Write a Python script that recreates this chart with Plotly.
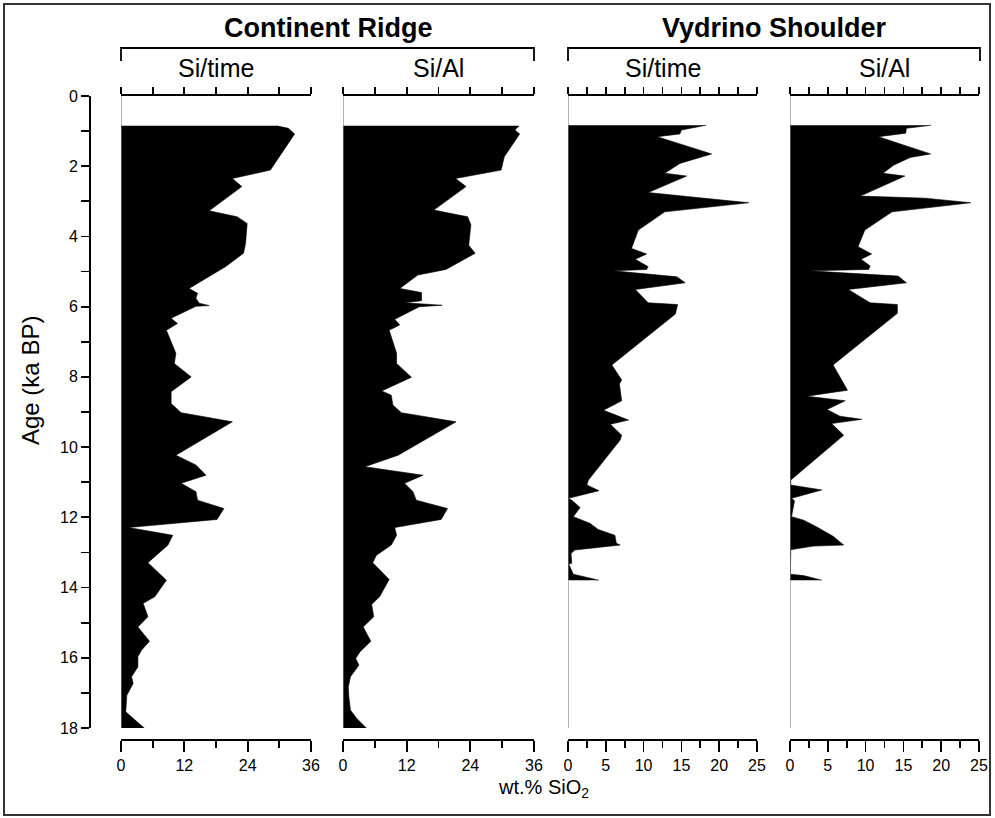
import plotly.graph_objects as go

W, H = 995, 818

# ---------------- data (age ka BP, wt.% SiO2) ----------------
cr_time_age = [0.85, 0.92, 1.08, 2.11, 2.35, 2.58, 3.27, 3.44, 3.63, 4.20, 4.48, 4.86, 5.48, 5.62,
               5.76, 5.90, 5.97, 5.99, 6.33, 6.48, 6.67, 7.33, 7.62, 8.00, 8.42, 8.76, 9.02, 9.28,
               10.23, 10.51, 10.80, 11.03, 11.27, 11.51, 11.75, 12.06, 12.29, 12.51, 12.79, 13.29,
               13.79, 14.26, 14.45, 14.83, 15.12, 15.53, 15.78, 15.97, 16.26, 16.54, 16.73, 17.07,
               17.54, 17.73, 18.18]
cr_time_val = [29.5, 31.7, 32.9, 28.3, 21.1, 22.9, 16.7, 22.0, 23.9, 23.6, 23.2, 19.8, 12.9, 14.5,
               14.2, 14.8, 16.7, 14.2, 9.5, 10.7, 8.6, 10.4, 10.1, 13.3, 9.5, 9.5, 11.4, 21.1,
               10.4, 14.2, 16.1, 11.4, 14.2, 14.5, 19.5, 18.2, 1.4, 9.8, 8.9, 5.1,
               8.6, 6.4, 4.2, 5.1, 3.2, 5.4, 3.9, 3.2, 3.2, 2.0, 2.3, 1.1,
               0.9, 2.3, 5.75]

cr_al_age = [0.85, 0.97, 1.08, 1.73, 2.11, 2.35, 2.58, 3.25, 3.44, 3.67, 4.25, 4.48, 4.94, 5.10,
             5.48, 5.60, 5.83, 5.89, 5.96, 6.00, 6.36, 6.52, 6.67, 7.33, 7.62, 8.01, 8.40, 8.52,
             8.80, 9.02, 9.28, 10.23, 10.56, 10.80, 11.03, 11.27, 11.51, 11.75, 12.06, 12.29,
             12.51, 12.79, 13.08, 13.29, 13.77, 14.26, 14.48, 14.83, 15.12, 15.53, 15.83, 16.02,
             16.21, 16.54, 16.83, 17.11, 17.49, 17.73, 18.18]
cr_al_val = [33.2, 32.4, 33.3, 30.4, 29.8, 21.2, 23.2, 17.1, 23.5, 24.1, 23.7, 24.9, 19.4, 14.1,
             10.7, 14.8, 14.8, 11.6, 18.7, 14.4, 9.75, 10.7, 8.7, 10.1, 10.1, 12.9, 7.3, 9.1,
             9.4, 11.0, 21.3, 10.4, 4.1, 15.1, 11.6, 13.2, 13.8, 19.7, 18.5, 9.75,
             10.1, 9.1, 6.3, 5.6, 8.7, 6.9, 5.4, 5.8, 3.8, 5.25, 3.2, 2.4,
             3.0, 1.4, 1.0, 1.1, 1.4, 2.6, 5.6]

vs_time_age = [0.83, 0.97, 1.08, 1.16, 1.65, 1.92, 2.20, 2.28, 2.75, 3.04, 3.30, 3.82, 4.34, 4.50,
               4.65, 4.86, 4.94, 4.98, 5.15, 5.32, 5.51, 5.89, 5.94, 6.21, 7.66, 8.09, 8.20, 8.68,
               8.95, 9.23, 9.35, 9.66, 9.80, 10.94, 11.08, 11.24, 11.46, 11.51, 11.72, 11.98,
               12.17, 12.35, 12.51, 12.74, 12.79, 12.93, 13.03, 13.31, 13.33, 13.62, 13.79]
vs_time_val = [18.3, 15.0, 14.8, 11.8, 19.0, 14.8, 12.8, 15.7, 10.6, 23.9, 12.8, 9.3, 8.4, 10.4,
               8.9, 10.6, 10.4, 6.0, 14.4, 15.5, 8.9, 10.6, 14.5, 14.2, 5.8, 7.1, 6.8, 7.1,
               4.7, 8.0, 5.6, 7.1, 6.9, 2.7, 2.5, 4.1, 0.05, 0.5, 1.6, 0.7,
               2.9, 4.0, 6.2, 6.4, 6.9, 0.9, 0.4, 0.5, 0.1, 0.7, 4.1]

vs_al_age = [0.83, 0.92, 1.06, 1.16, 1.65, 1.75, 1.97, 2.20, 2.28, 2.85, 2.91, 3.04, 3.30, 3.82,
             4.29, 4.50, 4.65, 4.84, 4.94, 4.98, 5.13, 5.32, 5.51, 5.89, 5.94, 6.19, 7.66, 8.38,
             8.55, 8.68, 8.93, 9.12, 9.21, 9.33, 9.66, 10.94, 11.08, 11.22, 11.46, 11.53, 11.98,
             12.08, 12.27, 12.54, 12.79, 12.82, 12.92, 13.62, 13.66, 13.79]
vs_al_val = [18.7, 15.4, 15.3, 11.7, 18.6, 15.9, 13.7, 12.3, 15.2, 9.3, 17.9, 23.9, 13.5, 9.9,
             9.0, 10.8, 9.4, 10.6, 10.4, 2.6, 14.3, 15.4, 7.7, 10.6, 14.2, 14.2, 5.7, 7.6,
             2.2, 7.3, 4.9, 6.6, 9.5, 5.5, 7.1, 0.1, 0.1, 4.2, 0.2, 0.6, 0.2,
             1.8, 3.5, 5.7, 7.1, 3.1, 0.1, 0.05, 1.8, 4.2]

panel_titles = ["Si/time", "Si/Al", "Si/time", "Si/Al"]
site_titles = ["Continent Ridge", "Vydrino Shoulder"]
y_ticks = list(range(0, 19, 2))

# ---------------- layout geometry (pixels) ----------------
def px(x):
    return x / W

def py(y):
    return 1 - y / H

panels = [
    dict(x0=121, x1=311, rng=[0, 36], dt=12, mdt=6, top=6, age=cr_time_age, val=cr_time_val),
    dict(x0=343, x1=534, rng=[0, 36], dt=12, mdt=6, top=6, age=cr_al_age, val=cr_al_val),
    dict(x0=568, x1=757, rng=[0, 25], dt=5, mdt=2.5, top=2.5, age=vs_time_age, val=vs_time_val),
    dict(x0=790, x1=979, rng=[0, 25], dt=5, mdt=2.5, top=2.5, age=vs_al_age, val=vs_al_val),
]

Y_TOP, Y_BOT = 96, 728      # age 0 and age 18
X_AX_BOT = 739
X_AX_TOP = 94
LW = 1.8

FONT = "Liberation Sans, Arial, sans-serif"

fig = go.Figure()
layout = dict(
    template="none",
    width=W, height=H, margin=dict(l=0, r=0, t=0, b=0, autoexpand=False),
    paper_bgcolor="white", plot_bgcolor="rgba(0,0,0,0)",
    showlegend=False, font=dict(family=FONT, color="black", size=16),
)

layout["yaxis"] = dict(
    domain=[py(Y_BOT), py(Y_TOP)], range=[18, 0], anchor="free", position=px(89),
    automargin=False,
    showline=True, linecolor="black", linewidth=LW, ticks="outside", ticklen=8,
    tickwidth=LW, tickcolor="black", tickvals=y_ticks, showgrid=False, zeroline=False,
    minor=dict(dtick=1, ticklen=8, tickwidth=LW, tickcolor="black", ticks="outside", showgrid=False),
    tickfont=dict(size=16, family=FONT),
)

shapes = []
annotations = []
for i, p in enumerate(panels):
    n = i + 1
    bx = "xaxis" if n == 1 else f"xaxis{n}"
    bref = "x" if n == 1 else f"x{n}"
    tn = n + 4
    layout[bx] = dict(
        domain=[px(p["x0"]), px(p["x1"])], range=p["rng"], anchor="free", position=py(X_AX_BOT),
        automargin=False,
        showline=True, linecolor="black", linewidth=LW, ticks="outside", ticklen=11, tickwidth=LW,
        tickcolor="black", dtick=p["dt"], tick0=0, showgrid=False, zeroline=False,
        minor=dict(dtick=p["mdt"], tick0=0, ticklen=7, tickwidth=LW, tickcolor="black",
                   ticks="outside", showgrid=False),
        tickfont=dict(size=16, family=FONT), ticklabelstandoff=0,
    )
    layout[f"xaxis{tn}"] = dict(
        overlaying=bref, side="top", range=p["rng"], anchor="free", position=py(X_AX_TOP),
        automargin=False,
        showline=True, linecolor="black", linewidth=LW, ticks="outside", ticklen=7, tickwidth=LW,
        tickcolor="black", dtick=p["top"], tick0=0, showticklabels=False, showgrid=False,
        zeroline=False,
    )
    fig.add_trace(go.Scatter(
        x=p["val"], y=p["age"], xaxis=bref, yaxis="y", mode="lines",
        line=dict(color="black", width=0.6), fill="tozerox", fillcolor="black",
        hoverinfo="skip",
    ))
    fig.add_trace(go.Scatter(x=[None], y=[None], xaxis=f"x{tn}", yaxis="y",
                             mode="lines", hoverinfo="skip"))
    # gray zero line of each panel
    shapes.append(dict(type="line", xref=bref, yref="y", x0=0, x1=0, y0=0, y1=18,
                       line=dict(color="#808080", width=1.2)))
    annotations.append(dict(text=panel_titles[i], x=px((p["x0"] + p["x1"]) / 2), y=py(68),
                            xref="paper", yref="paper", showarrow=False,
                            font=dict(size=25, family=FONT), xanchor="center", yanchor="middle"))

# site brackets and titles
for j, (a, b) in enumerate([(0, 1), (2, 3)]):
    xa, xb = panels[a]["x0"], panels[b]["x1"]
    if j == 1:
        xb = 980
    shapes.append(dict(type="path", xref="paper", yref="paper",
                       path=f"M {px(xa)},{py(61)} L {px(xa)},{py(48)} L {px(xb)},{py(48)} L {px(xb)},{py(61)}",
                       line=dict(color="black", width=LW)))
    annotations.append(dict(text=f"<b>{site_titles[j]}</b>", x=px((xa + xb) / 2), y=py(28),
                            xref="paper", yref="paper", showarrow=False,
                            font=dict(size=27, family=FONT), xanchor="center", yanchor="middle"))

annotations.append(dict(text="Age (ka BP)", x=px(31), y=py(381), xref="paper", yref="paper",
                        textangle=-90, showarrow=False, font=dict(size=24, family=FONT),
                        xanchor="center", yanchor="middle"))
annotations.append(dict(text="wt.% SiO<sub>2</sub>", x=px(543), y=py(788), xref="paper", yref="paper",
                        showarrow=False, font=dict(size=20, family=FONT),
                        xanchor="center", yanchor="middle"))

# outer frame
shapes.append(dict(type="rect", xref="paper", yref="paper", x0=px(4), x1=px(990), y0=py(815), y1=py(4),
                   line=dict(color="#333333", width=2)))

layout["shapes"] = shapes
layout["annotations"] = annotations
fig.update_layout(**layout)

fig.write_html("out.html", config={"displayModeBar": False, "staticPlot": True},
               post_script="document.body.style.margin='0px';document.body.style.overflow='hidden';")
